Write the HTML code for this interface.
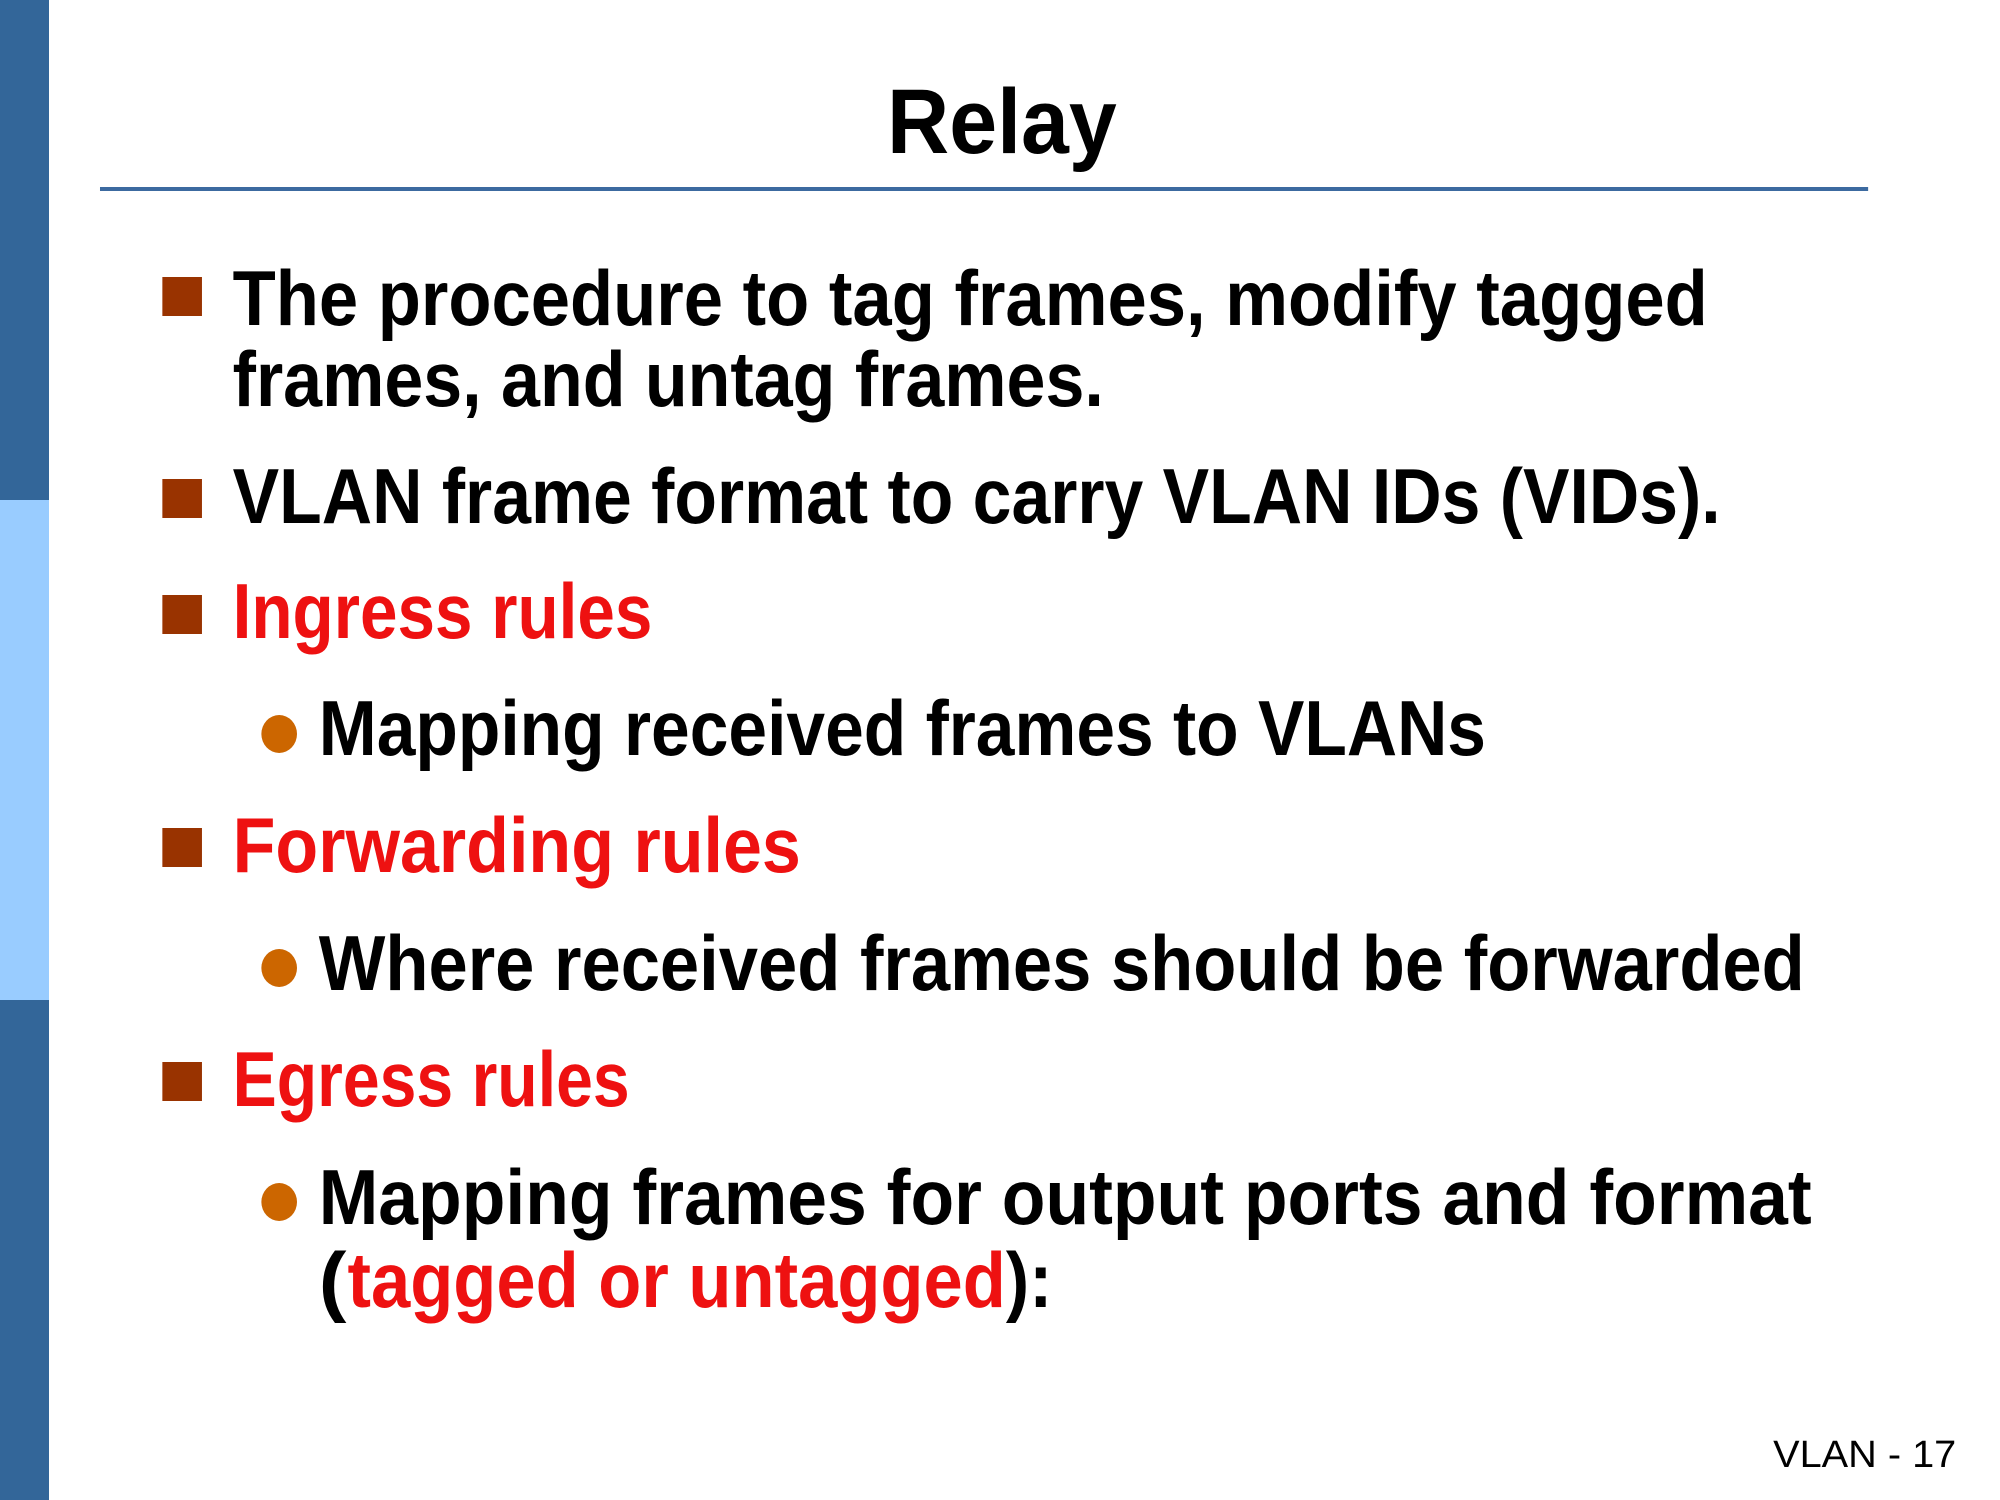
<!DOCTYPE html>
<html><head><meta charset="utf-8"><style>
html,body{margin:0;padding:0;background:#fff;}
svg{display:block;}
</style></head><body>
<svg width="2000" height="1500" viewBox="0 0 2000 1500" xmlns="http://www.w3.org/2000/svg" font-family="Liberation Sans, sans-serif">
<rect x="0" y="0" width="49" height="500" fill="#336699"/>
<rect x="0" y="500" width="49" height="500" fill="#99ccff"/>
<rect x="0" y="1000" width="49" height="500" fill="#336699"/>
<g transform="scale(0.99,1)">
<text x="896" y="153" font-size="92" font-weight="bold" fill="#000" textLength="232" lengthAdjust="spacingAndGlyphs">Relay</text>
<rect x="101" y="187" width="1786" height="4" fill="#3c6aa0"/>
<g fill="#993300">
<rect x="164" y="277" width="40" height="39"/>
<rect x="164" y="479" width="40" height="39"/>
<rect x="164" y="595" width="40" height="39"/>
<rect x="164" y="828" width="40" height="39"/>
<rect x="164" y="1062" width="40" height="39"/>
</g>
<g fill="#cc6600">
<ellipse cx="282" cy="734" rx="18" ry="19"/>
<ellipse cx="282" cy="968" rx="18" ry="19"/>
<ellipse cx="282" cy="1202" rx="18" ry="19"/>
</g>
<g font-size="78" font-weight="bold" fill="#000">
<text x="235" y="325" textLength="1490" lengthAdjust="spacingAndGlyphs">The procedure to tag frames, modify tagged</text>
<text x="235" y="406" textLength="880" lengthAdjust="spacingAndGlyphs">frames, and untag frames.</text>
<text x="235" y="523" textLength="1503" lengthAdjust="spacingAndGlyphs">VLAN frame format to carry VLAN IDs (VIDs).</text>
<text x="235" y="638" textLength="424" lengthAdjust="spacingAndGlyphs" fill="#ee1111">Ingress rules</text>
<text x="322" y="755" textLength="1179" lengthAdjust="spacingAndGlyphs">Mapping received frames to VLANs</text>
<text x="235" y="872" textLength="574" lengthAdjust="spacingAndGlyphs" fill="#ee1111">Forwarding rules</text>
<text x="322" y="990" textLength="1501" lengthAdjust="spacingAndGlyphs">Where received frames should be forwarded</text>
<text x="235" y="1106" textLength="401" lengthAdjust="spacingAndGlyphs" fill="#ee1111">Egress rules</text>
<text x="322" y="1224" textLength="1508" lengthAdjust="spacingAndGlyphs">Mapping frames for output ports and format</text>
<text x="322" y="1307" textLength="28" lengthAdjust="spacingAndGlyphs">(</text>
<text x="351" y="1307" textLength="665" lengthAdjust="spacingAndGlyphs" fill="#ee1111">tagged or untagged</text>
<text x="1016" y="1307" textLength="47" lengthAdjust="spacingAndGlyphs">):</text>
</g>
<text x="1791" y="1467" font-size="38" fill="#000" textLength="185" lengthAdjust="spacingAndGlyphs">VLAN - 17</text>
</g>
</svg>
</body></html>
